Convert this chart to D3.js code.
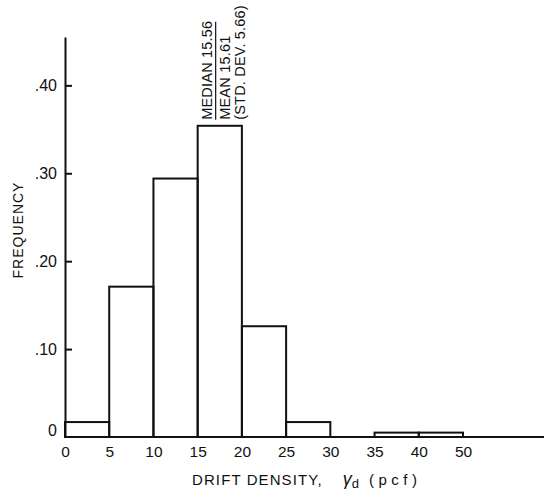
<!DOCTYPE html>
<html>
<head>
<meta charset="utf-8">
<script src="https://cdn.jsdelivr.net/npm/d3@7"></script>
<style>
  html, body { margin: 0; padding: 0; background: #fff; }
  svg { display: block; }
  text { font-family: "Liberation Sans", Arial, sans-serif; fill: #111; }
</style>
</head>
<body>
<svg id="chart" width="544" height="492"></svg>
<script>
// ---- data ----
const binEdgeLabels = ["0", "5", "10", "15", "20", "25", "30", "35", "40", "50"];
const binFrequencies = [0.017, 0.171, 0.294, 0.354, 0.126, 0.017, 0, 0.005, 0.005];
const yTickValues = [0, 0.10, 0.20, 0.30, 0.40];
const yTickLabels = ["0", ".10", ".20", ".30", ".40"];
const annotationLines = ["MEDIAN 15.56", "MEAN 15.61", "(STD. DEV. 5.66)"];
const annotationBinIndex = 3;
const xTitle = "DRIFT DENSITY,";
const yTitle = "FREQUENCY";

// ---- layout ----
const W = 544, H = 492;
const svg = d3.select("#chart");
const x = d3.scalePoint().domain(binEdgeLabels).range([65, 463]);
const y = d3.scaleLinear().domain([0, 0.455]).range([437, 37]);
const ink = "#111";

// bars
const bins = binFrequencies.map((v, i) => ({ x0: binEdgeLabels[i], x1: binEdgeLabels[i + 1], v }));
svg.append("g").selectAll("rect")
  .data(bins.filter(d => d.v > 0))
  .join("rect")
  .attr("x", d => x(d.x0))
  .attr("width", d => x(d.x1) - x(d.x0))
  .attr("y", d => y(d.v))
  .attr("height", d => y(0) - y(d.v))
  .attr("fill", "none")
  .attr("stroke", ink)
  .attr("stroke-width", 2);

// y axis
const yAxis = d3.axisLeft(y)
  .tickValues(yTickValues.filter(v => v > 0))
  .tickFormat((d) => yTickLabels[yTickValues.indexOf(d)])
  .tickSizeInner(-7)
  .tickSizeOuter(0)
  .tickPadding(8);
const yg = svg.append("g").attr("transform", `translate(${x(binEdgeLabels[0])},0)`).call(yAxis);
yg.select(".domain").attr("stroke", ink).attr("stroke-width", 2);
yg.selectAll(".tick line").attr("stroke", ink).attr("stroke-width", 2);
yg.selectAll(".tick text").style("font-size", "16px").attr("font-family", null).attr("fill", ink);
// zero label
svg.append("text")
  .attr("x", x(binEdgeLabels[0]) - 8)
  .attr("y", y(yTickValues[0]) - 6)
  .attr("text-anchor", "end")
  .style("font-size", "16px")
  .attr("dy", "0.32em")
  .text(yTickLabels[0]);

// x axis
const xAxis = d3.axisBottom(x).tickSize(0).tickPadding(9);
const xg = svg.append("g").attr("transform", `translate(0,${y(0)})`).call(xAxis);
xg.select(".domain").remove();
xg.selectAll(".tick text").style("font-size", "15.5px").attr("font-family", null).attr("fill", ink);
svg.append("line")
  .attr("x1", x(binEdgeLabels[0]) - 1).attr("x2", W)
  .attr("y1", y(0)).attr("y2", y(0))
  .attr("stroke", ink).attr("stroke-width", 2);

// axis titles
const xt = svg.append("text")
  .attr("x", 192).attr("y", 485)
  .style("font-size", "15px")
  .style("letter-spacing", "1.1px");
xt.append("tspan").text(xTitle);
xt.append("tspan").attr("dx", 20).style("font-size", "18px").style("font-style", "italic").style("letter-spacing", "0px").text("γ");
xt.append("tspan").attr("dy", 3).style("font-size", "13px").style("letter-spacing", "0px").text("d");
xt.append("tspan").attr("dx", 10).attr("dy", -3).style("letter-spacing", "4.5px").text("(pcf)");

svg.append("text")
  .attr("transform", `translate(23,230) rotate(-90)`)
  .attr("text-anchor", "middle")
  .style("font-size", "14px")
  .style("letter-spacing", "1px")
  .text(yTitle);

// annotation over the modal bin
const ax = x(binEdgeLabels[annotationBinIndex]);
const ay = y(binFrequencies[annotationBinIndex]) - 6;
const baseOffsets = [14, 32, 47];
annotationLines.forEach((t, i) => {
  svg.append("text")
    .attr("transform", `translate(${ax + baseOffsets[i]},${ay}) rotate(-90)`)
    .style("font-size", "14.5px")
    .style("letter-spacing", "0.2px")
    .text(t);
});
const medianLen = 98;
svg.append("line")
  .attr("x1", ax + 18).attr("x2", ax + 18)
  .attr("y1", ay).attr("y2", ay - medianLen)
  .attr("stroke", ink).attr("stroke-width", 1.2);
</script>
</body>
</html>
